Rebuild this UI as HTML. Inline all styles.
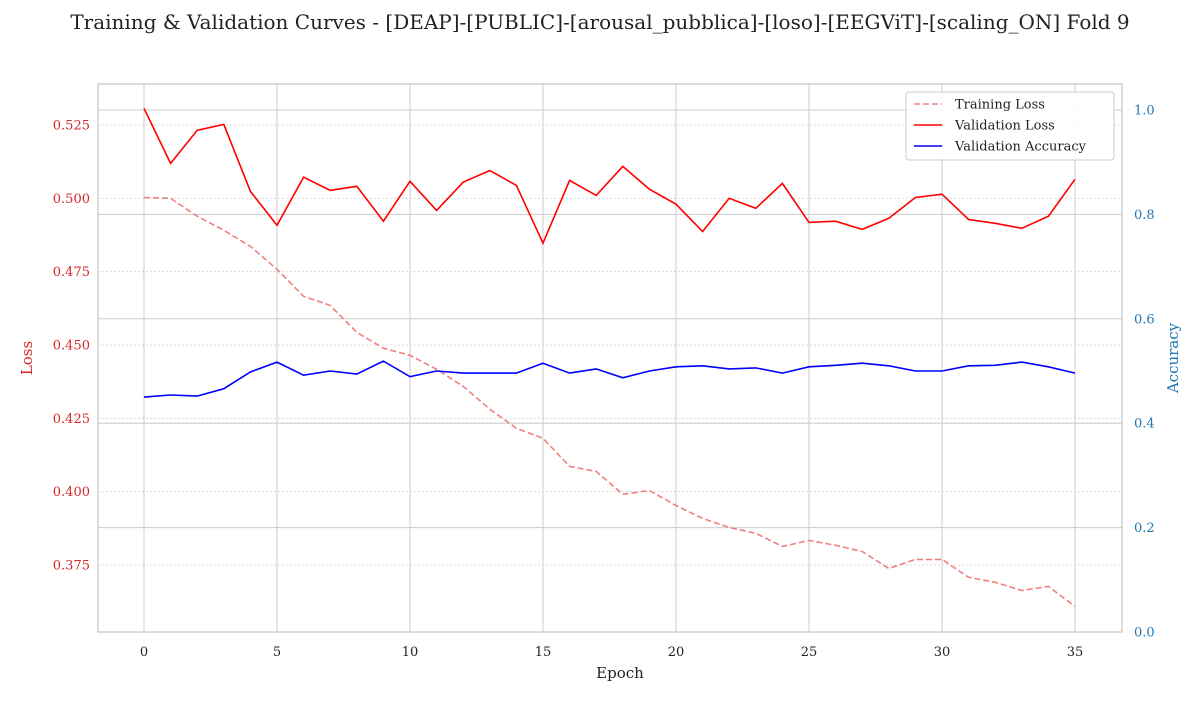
<!DOCTYPE html>
<html><head><meta charset="utf-8"><style>
body{margin:0;background:#fff;}
svg text{font-family:"DejaVu Serif","Liberation Serif",serif;}
</style></head><body>
<svg id="c" width="1200" height="700" xmlns="http://www.w3.org/2000/svg"></svg>
<script>
const epochs=[...Array(36).keys()];
const trainLoss=[0.5003,0.5000,0.4939,0.4891,0.4836,0.4758,0.4666,0.4635,0.4543,0.4489,0.4465,0.4417,0.4359,0.4281,0.4216,0.4182,0.4086,0.4069,0.3991,0.4004,0.3953,0.3909,0.3878,0.3858,0.3813,0.3834,0.3817,0.3796,0.3738,0.3769,0.3769,0.3708,0.3691,0.3663,0.3677,0.3609];
const valLoss=[0.5307,0.5119,0.5232,0.5252,0.5024,0.4908,0.5072,0.5027,0.5041,0.4922,0.5058,0.4959,0.5055,0.5095,0.5044,0.4847,0.5061,0.5010,0.5109,0.5031,0.4980,0.4887,0.5000,0.4966,0.5051,0.4918,0.4922,0.4894,0.4932,0.5003,0.5014,0.4928,0.4915,0.4898,0.4939,0.5065];
const valAcc=[0.450,0.454,0.452,0.466,0.498,0.517,0.492,0.500,0.494,0.519,0.489,0.500,0.496,0.496,0.496,0.515,0.496,0.504,0.487,0.500,0.508,0.510,0.504,0.506,0.496,0.508,0.511,0.515,0.510,0.500,0.500,0.510,0.511,0.517,0.508,0.496];
const xTicks=[0,5,10,15,20,25,30,35];
const lossTicks=[0.375,0.400,0.425,0.450,0.475,0.500,0.525];
const accTicks=[0.0,0.2,0.4,0.6,0.8,1.0];

const L=98,R=1122,T=84,B=632;
const X=v=>144+(v)*(1075-144)/35;
const YL=v=>565-(v-0.375)*(565-125)/0.15;
const YR=v=>632-v*522;
const svg=document.getElementById('c');
const NS='http://www.w3.org/2000/svg';
function add(tag,attrs,txt){const e=document.createElementNS(NS,tag);for(const k in attrs)e.setAttribute(k,attrs[k]);if(txt!==undefined)e.textContent=txt;svg.appendChild(e);return e;}

let e;
e=add('text',{x:600,y:29,'text-anchor':'middle','font-size':20,fill:'#222'},'Training & Validation Curves - [DEAP]-[PUBLIC]-[arousal_pubblica]-[loso]-[EEGViT]-[scaling_ON] Fold 9');



accTicks.forEach(t=>{e=add('line',{x1:L,x2:R,y1:YR(t),y2:YR(t),stroke:'#cccccc','stroke-width':1});

});
xTicks.forEach(t=>{e=add('line',{x1:X(t),x2:X(t),y1:T,y2:B,stroke:'#cccccc','stroke-width':1});


e=add('text',{x:X(t),y:656,'text-anchor':'middle','font-size':13,fill:'#222'},t);

});
lossTicks.forEach(t=>{e=add('line',{x1:L,x2:R,y1:YL(t),y2:YL(t),stroke:'#cccccc','stroke-width':1,'stroke-dasharray':'1.5,2.5'});


e=add('text',{x:L-8,y:YL(t)+4.5,'text-anchor':'end','font-size':13,fill:'#d62728'},t.toFixed(3));

});
accTicks.forEach(t=>{e=add('text',{x:R+12,y:YR(t)+4.5,'font-size':13,fill:'#1f77b4'},t.toFixed(1));

});
e=add('rect',{x:L,y:T,width:R-L,height:B-T,fill:'none',stroke:'#c8c8c8','stroke-width':1.3});



function path(arr,Y){return arr.map((v,i)=>(i?'L':'M')+X(epochs[i]).toFixed(1)+','+Y(v).toFixed(1)).join(' ');}
e=add('path',{d:path(trainLoss,YL),fill:'none',stroke:'#f08080','stroke-width':1.6,'stroke-dasharray':'6,3'});


e=add('path',{d:path(valLoss,YL),fill:'none',stroke:'#ff0000','stroke-width':1.6});


e=add('path',{d:path(valAcc,YR),fill:'none',stroke:'#0000ff','stroke-width':1.6});



e=add('text',{x:620,y:678,'text-anchor':'middle','font-size':15,fill:'#222'},'Epoch');


e=add('text',{x:32,y:358,'text-anchor':'middle','font-size':15,fill:'#d62728',transform:'rotate(-90 32 358)'},'Loss');


e=add('text',{x:1178,y:358,'text-anchor':'middle','font-size':15,fill:'#1f77b4',transform:'rotate(-90 1178 358)'},'Accuracy');



e=add('rect',{x:906,y:92,width:208,height:68,rx:3,fill:'#fff','fill-opacity':0.85,stroke:'#cccccc'});


const leg=[['Training Loss','#f08080','6,3'],['Validation Loss','#ff0000',''],['Validation Accuracy','#0000ff','']];
leg.forEach((l,i)=>{const y=104+i*21;
e=add('line',{x1:914,x2:942,y1:y,y2:y,stroke:l[1],'stroke-width':1.6,'stroke-dasharray':l[2]});


e=add('text',{x:955,y:y+4.5,'font-size':13,fill:'#222'},l[0]);

});
</script>
</body></html>
